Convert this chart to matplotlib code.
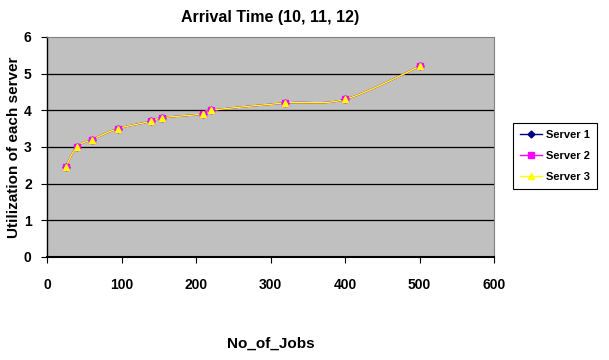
import numpy as np
import matplotlib
matplotlib.use("Agg")
import matplotlib.pyplot as plt

jobs = [25, 40, 60, 95, 140, 155, 210, 220, 320, 400, 500]
server1 = [2.45, 3.0, 3.2, 3.5, 3.7, 3.8, 3.9, 4.0, 4.2, 4.3, 5.2]
server2 = [2.45, 3.0, 3.2, 3.5, 3.7, 3.8, 3.9, 4.0, 4.2, 4.3, 5.2]
server3 = [2.45, 3.0, 3.2, 3.5, 3.7, 3.8, 3.9, 4.0, 4.2, 4.3, 5.2]
series_names = ["Server 1", "Server 2", "Server 3"]
xticks = [0, 100, 200, 300, 400, 500, 600]
yticks = [0, 1, 2, 3, 4, 5, 6]

plt.rcParams['font.family'] = ['Liberation Sans', 'DejaVu Sans']


def smooth(x, y, n=20):
    # Excel-like smoothed line (cardinal Bezier spline) through the data points
    x = np.asarray(x, float)
    y = np.asarray(y, float)
    px = np.concatenate([[x[0]], x, [x[-1]]])
    py = np.concatenate([[y[0]], y, [y[-1]]])
    xs, ys = [], []
    t = np.linspace(0, 1, n)
    for i in range(1, len(px) - 2):
        p0 = np.array([px[i], py[i]])
        p3 = np.array([px[i + 1], py[i + 1]])
        p1 = p0 + (np.array([px[i + 1], py[i + 1]]) - np.array([px[i - 1], py[i - 1]])) / 6
        p2 = p3 - (np.array([px[i + 2], py[i + 2]]) - np.array([px[i], py[i]])) / 6
        b = ((1 - t) ** 3)[:, None] * p0 + (3 * (1 - t) ** 2 * t)[:, None] * p1 \
            + (3 * (1 - t) * t ** 2)[:, None] * p2 + (t ** 3)[:, None] * p3
        xs.extend(b[:, 0])
        ys.extend(b[:, 1])
    return np.array(xs), np.array(ys)


fig = plt.figure(figsize=(6.09, 3.6), dpi=100)
ax = fig.add_axes([47 / 609, 1 - 257 / 360, 447 / 609, 220 / 360])
ax.set_facecolor('#C0C0C0')

styles = [
    (server1, '#000080', 'D', 3.5),
    (server2, '#FF00FF', 's', 4.5),
    (server3, '#FFFF00', '^', 4.0),
]
for (vals, col, mk, ms), name in zip(styles, series_names):
    sx, sy = smooth(jobs, vals)
    ax.plot(sx, sy, color=col, lw=1.0, zorder=3)
    ax.plot(jobs, vals, linestyle='none', marker=mk, color=col, ms=ms,
            markeredgecolor=col, zorder=4)
    ax.plot([], [], color=col, marker=mk, ms=ms, lw=1.0, label=name)

ax.set_xlim(0, 600)
ax.set_ylim(0, 6)
ax.set_xticks(xticks)
ax.set_yticks(yticks)
for v in yticks[1:-1]:
    ax.axhline(v, color='black', lw=0.9, zorder=1)

ax.spines['left'].set_color('black')
ax.spines['bottom'].set_color('black')
ax.spines['left'].set_linewidth(1.0)
ax.spines['bottom'].set_linewidth(1.5)
ax.spines['top'].set_color('#808080')
ax.spines['right'].set_color('#808080')
ax.tick_params(direction='out', length=4, width=0.8, pad=11)
ax.tick_params(axis='y', pad=7)
for lab in ax.get_xticklabels() + ax.get_yticklabels():
    lab.set_fontweight('heavy')
    lab.set_fontsize(10)

ax.set_title('Arrival Time (10, 11, 12)', fontsize=11.5, fontweight='bold', pad=11)
ax.set_xlabel('No_of_Jobs', fontsize=11, fontweight='bold', labelpad=32)
ax.set_ylabel('Utilization of each server', fontsize=11, fontweight='bold', labelpad=2)

leg = ax.legend(loc='upper left', bbox_to_anchor=(513 / 609, 1 - 123 / 360),
                bbox_transform=fig.transFigure, borderaxespad=0, fancybox=False,
                framealpha=1, edgecolor='black', prop={'size': 8, 'weight': 'bold'},
                handlelength=2.0, handletextpad=0.4, labelspacing=1.0, borderpad=0.6)
leg.get_frame().set_linewidth(0.8)

fig.savefig('out.png', dpi=100)
